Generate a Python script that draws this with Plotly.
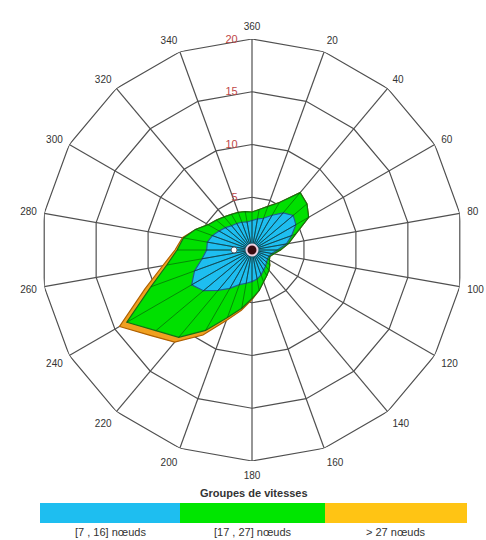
import plotly.graph_objects as go

# ---- data (cumulative radii, % frequency) ----
directions = list(range(0, 360, 10))
blue_r = [2.8, 3.0, 3.2, 3.8, 4.6, 5.1, 4.8, 4.0, 3.3, 2.4,
          1.9, 1.7, 1.7, 1.8, 2.0, 2.2, 2.5, 2.8, 3.0, 3.2,
          3.5, 4.2, 5.0, 6.0, 6.6, 5.8, 4.8, 4.3, 4.3, 4.0,
          3.6, 3.3, 3.0, 2.9, 2.8, 2.7]
green_r = [3.6, 3.9, 4.4, 5.2, 7.1, 6.8, 6.2, 4.4, 3.5, 2.7,
           2.1, 1.8, 1.9, 2.2, 2.5, 2.8, 3.2, 3.9, 4.6, 5.6,
           6.8, 8.8, 10.8, 11.9, 13.7, 10.2, 8.2, 7.1, 6.6, 5.7,
           4.8, 4.4, 4.1, 3.9, 3.8, 3.7]
orange_r = [3.6, 3.9, 4.4, 5.2, 7.1, 6.8, 6.2, 4.4, 3.5, 2.7,
            2.1, 1.8, 1.9, 2.2, 2.5, 2.8, 3.2, 3.9, 4.7, 5.8,
            7.1, 9.3, 11.4, 12.6, 14.5, 10.8, 8.6, 7.3, 6.7, 5.7,
            4.8, 4.4, 4.1, 3.9, 3.8, 3.7]

angle_ticks = list(range(0, 360, 20))
angle_labels = ["360"] + [str(a) for a in angle_ticks[1:]]
ring_values = [5, 10, 15, 20]
ring_labels = ["5", "10", "15", "20"]

legend_title = "Groupes de vitesses"
legend_names = ["[7 , 16] nœuds", "[17 , 27] nœuds", "> 27 nœuds"]
fill_colors = ["#1EBEF0", "#00E000", "#F0A020"]
legend_colors = ["#1EBEF0", "#00E600", "#FFC414"]

fig = go.Figure()

# ---- polygonal grid ----
grid_col = "#505050"
ring_theta = angle_ticks + [360]
for rv in ring_values:
    fig.add_trace(go.Scatterpolar(r=[rv] * len(ring_theta), theta=ring_theta,
                                  mode="lines", line=dict(color=grid_col, width=1.2),
                                  hoverinfo="skip", showlegend=False))
sp_t, sp_r = [], []
for a in angle_ticks:
    sp_t += [a, a, None]
    sp_r += [0, ring_values[-1], None]
fig.add_trace(go.Scatterpolar(r=sp_r, theta=sp_t, mode="lines",
                              line=dict(color=grid_col, width=1.2),
                              hoverinfo="skip", showlegend=False))

# ---- filled polygons (largest first) ----
edge_cols = ["#1F5F8A", "#157015", "#B06000"]
for vals, fc, ec, nm in [(orange_r, fill_colors[2], edge_cols[2], legend_names[2]),
                         (green_r, fill_colors[1], edge_cols[1], legend_names[1]),
                         (blue_r, fill_colors[0], edge_cols[0], legend_names[0])]:
    fig.add_trace(go.Scatterpolar(r=vals + [vals[0]], theta=directions + [directions[0]],
                                  mode="lines", fill="toself", fillcolor=fc,
                                  line=dict(color=ec, width=1.2),
                                  name=nm, showlegend=False))

# ---- wedge edges ----
for vals, col in [(green_r, "rgba(10,70,10,0.55)"), (blue_r, "rgba(20,50,80,0.7)")]:
    tt, rr = [], []
    for d, v in zip(directions, vals):
        tt += [d, d, None]
        rr += [0, v, None]
    fig.add_trace(go.Scatterpolar(r=rr, theta=tt, mode="lines",
                                  line=dict(color=col, width=1),
                                  hoverinfo="skip", showlegend=False))

# ---- centre markers ----
fig.add_trace(go.Scatterpolar(r=[0], theta=[0], mode="markers",
                              marker=dict(size=11, color="#3A0A10",
                                          line=dict(color="#F0D0E0", width=2)),
                              hoverinfo="skip", showlegend=False))
fig.add_trace(go.Scatterpolar(r=[1.7], theta=[270], mode="markers",
                              marker=dict(size=6, color="white",
                                          line=dict(color="#506070", width=1)),
                              hoverinfo="skip", showlegend=False))

W, H = 486, 540
cx, cy, R = 252, 250, 211
fig.update_layout(
    width=W, height=H,
    margin=dict(l=0, r=0, t=0, b=0),
    paper_bgcolor="white", plot_bgcolor="white",
    font=dict(family="Liberation Sans, Arial, sans-serif", color="#333333"),
    polar=dict(
        domain=dict(x=[(cx - R) / W, (cx + R) / W],
                    y=[(H - cy - R) / H, (H - cy + R) / H]),
        bgcolor="white",
        angularaxis=dict(direction="clockwise", rotation=90,
                         tickmode="array", tickvals=angle_ticks, ticktext=angle_labels,
                         showgrid=False, showline=False, ticks="outside", ticklen=5,
                         tickcolor="rgba(0,0,0,0)",
                         tickfont=dict(size=10, color="#333333")),
        radialaxis=dict(range=[0, 20], angle=90, side="counterclockwise",
                        tickmode="array", tickvals=ring_values, ticktext=ring_labels,
                        tickangle=90, ticks="outside", ticklen=10,
                        tickcolor="rgba(0,0,0,0)",
                        showgrid=False, showline=False,
                        tickfont=dict(size=11, color="#C04848")),
    ),
    showlegend=False,
)

# ---- legend bar ----
bx = [40, 180, 325, 467]
by0, by1 = 503, 523
for i in range(3):
    fig.add_shape(type="rect", xref="paper", yref="paper",
                  x0=bx[i] / W, x1=bx[i + 1] / W, y0=1 - by1 / H, y1=1 - by0 / H,
                  fillcolor=legend_colors[i], line=dict(width=0), layer="above")
    fig.add_annotation(x=(bx[i] + bx[i + 1]) / 2 / W, y=1 - 532 / H, xref="paper", yref="paper",
                       xanchor="center", yanchor="middle",
                       text=legend_names[i], showarrow=False,
                       font=dict(size=11, color="#333333"))
fig.add_annotation(x=254 / W, y=1 - 493 / H, xref="paper", yref="paper",
                   xanchor="center", yanchor="middle",
                   text="<b>" + legend_title + "</b>", showarrow=False,
                   font=dict(size=11, color="#333333"))

fig.write_html("out.html", config={"displayModeBar": False},
               post_script="document.body.style.margin='0px';")
